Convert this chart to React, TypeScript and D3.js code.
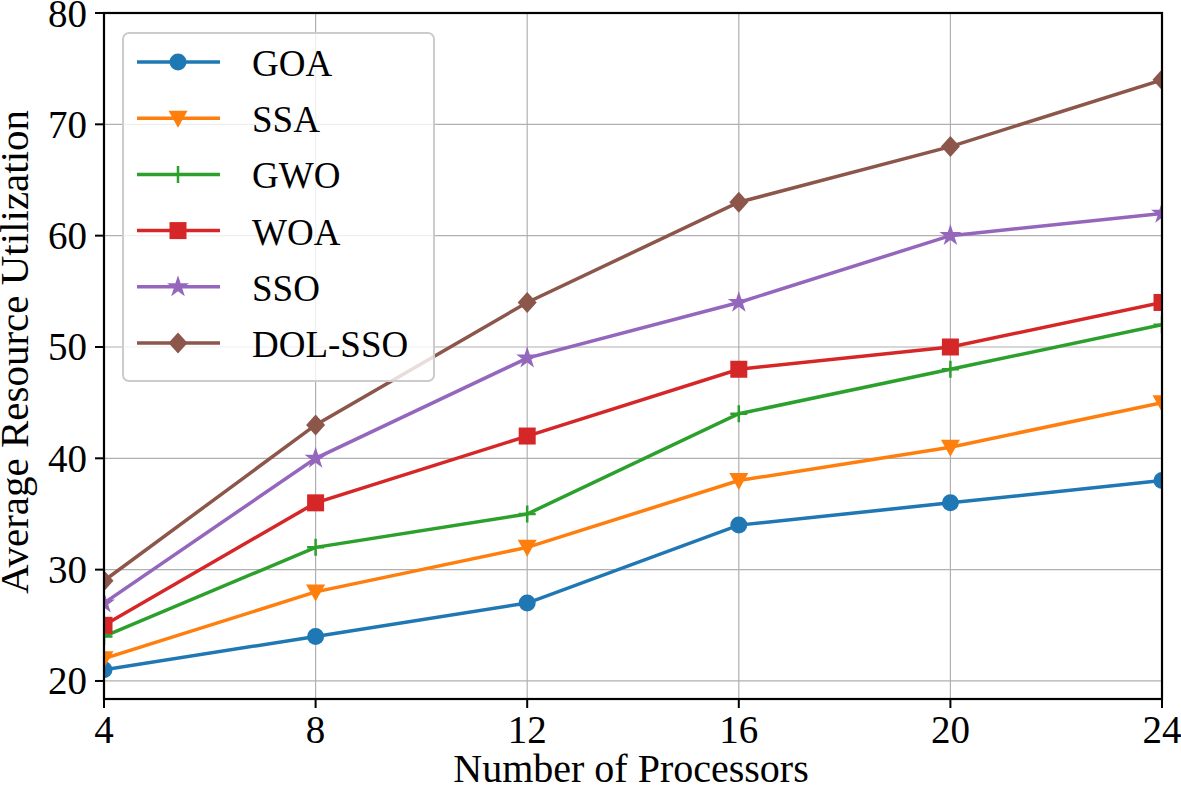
import React from "react";
import * as d3 from "d3";

const processors = [4, 8, 12, 16, 20, 24];
const xTicks = [4, 8, 12, 16, 20, 24];
const yTicks = [20, 30, 40, 50, 60, 70, 80];
const seriesNames = ["GOA", "SSA", "GWO", "WOA", "SSO", "DOL-SSO"];
const goa = [21, 24, 27, 34, 36, 38];
const ssa = [22, 28, 32, 38, 41, 45];
const gwo = [24, 32, 35, 44, 48, 52];
const woa = [25, 36, 42, 48, 50, 54];
const sso = [27, 40, 49, 54, 60, 62];
const dolsso = [29, 43, 54, 63, 68, 74];
const seriesValues = [goa, ssa, gwo, woa, sso, dolsso];
const colors = ["#1f77b4", "#ff7f0e", "#2ca02c", "#d62728", "#9467bd", "#8c564b"];
const markers = ["circle", "triangleDown", "plus", "square", "star", "diamond"];

const W = 1181, H = 791;
const L = 104, R = 1162, T = 13, B = 699;
const FONT = "'Liberation Serif', 'Times New Roman', serif";

function Marker({ type, x, y, color }: { type: string; x: number; y: number; color: string }) {
  const s = 8.5;
  if (type === "circle") return <circle cx={x} cy={y} r={s} fill={color} />;
  if (type === "square") return <rect x={x - s} y={y - s} width={2 * s} height={2 * s} fill={color} />;
  if (type === "triangleDown")
    return <path d={`M${x - s - 1},${y - s + 1}L${x + s + 1},${y - s + 1}L${x},${y + s + 1}Z`} fill={color} />;
  if (type === "diamond")
    return <path d={`M${x},${y - s - 2}L${x + s + 1},${y}L${x},${y + s + 2}L${x - s - 1},${y}Z`} fill={color} />;
  if (type === "plus")
    return <path d={`M${x - s},${y}L${x + s},${y}M${x},${y - s}L${x},${y + s}`} stroke={color} strokeWidth={2.5} />;
  if (type === "star") {
    const sym = d3.symbol().type(d3.symbolStar).size(150)();
    return <path d={sym as string} transform={`translate(${x},${y})`} fill={color} />;
  }
  return null;
}

export default function App() {
  const x = d3.scaleLinear().domain([4, 24]).range([L, R]);
  const y = d3.scaleLinear().domain([18.38, 80]).range([B, T]);
  const line = d3
    .line<number>()
    .x((_, i) => x(processors[i]))
    .y((d) => y(d));

  const legX = 123, legY = 33, legW = 311, legH = 348;
  const rowY0 = 62, rowStep = 56.2;

  return (
    <svg width={W} height={H} style={{ position: "absolute", left: 0, top: 0 }}>
      <defs>
        <clipPath id="plotclip">
          <rect x={L} y={T} width={R - L} height={B - T} />
        </clipPath>
      </defs>
      <rect x={0} y={0} width={W} height={H} fill="#fff" />
      {/* grid */}
      {xTicks.map((t) => (
        <line key={"gx" + t} x1={x(t)} x2={x(t)} y1={T} y2={B} stroke="#b0b0b0" strokeWidth={1.2} />
      ))}
      {yTicks.map((t) => (
        <line key={"gy" + t} x1={L} x2={R} y1={y(t)} y2={y(t)} stroke="#b0b0b0" strokeWidth={1.2} />
      ))}
      {/* series */}
      <g clipPath="url(#plotclip)">
        {seriesValues.map((vals, si) => (
          <g key={seriesNames[si]}>
            <path d={line(vals) as string} fill="none" stroke={colors[si]} strokeWidth={3.5} />
          </g>
        ))}
      </g>
      <g>
        {seriesValues.map((vals, si) => (
          <g key={"m" + seriesNames[si]} clipPath="url(#plotclip)">
            {vals.map((v, i) => (
              <Marker key={i} type={markers[si]} x={x(processors[i])} y={y(v)} color={colors[si]} />
            ))}
          </g>
        ))}
      </g>
      {/* spines */}
      <rect x={L} y={T} width={R - L} height={B - T} fill="none" stroke="#000" strokeWidth={2.2} />
      {/* ticks */}
      {xTicks.map((t) => (
        <g key={"xt" + t}>
          <line x1={x(t)} x2={x(t)} y1={B} y2={B + 9} stroke="#000" strokeWidth={2} />
          <text x={x(t)} y={743} textAnchor="middle" fontFamily={FONT} fontSize={39}>
            {t}
          </text>
        </g>
      ))}
      {yTicks.map((t) => (
        <g key={"yt" + t}>
          <line x1={L - 9} x2={L} y1={y(t)} y2={y(t)} stroke="#000" strokeWidth={2} />
          <text x={L - 17} y={y(t) + 13.5} textAnchor="end" fontFamily={FONT} fontSize={39}>
            {t}
          </text>
        </g>
      ))}
      <text x={631} y={782} textAnchor="middle" fontFamily={FONT} fontSize={40}>
        Number of Processors
      </text>
      <text
        transform={`translate(28,352) rotate(-90)`}
        textAnchor="middle"
        fontFamily={FONT}
        fontSize={41}
      >
        Average Resource Utilization
      </text>
      {/* legend */}
      <rect x={legX} y={legY} width={legW} height={legH} rx={6} ry={6} fill="#fff" fillOpacity={0.8} stroke="#cccccc" strokeWidth={2} />
      {seriesNames.map((name, si) => {
        const ry = rowY0 + si * rowStep;
        return (
          <g key={"lg" + name}>
            <line x1={137} x2={220} y1={ry} y2={ry} stroke={colors[si]} strokeWidth={3.5} />
            <Marker type={markers[si]} x={178} y={ry} color={colors[si]} />
            <text x={252} y={ry + 14} fontFamily={FONT} fontSize={37}>
              {name}
            </text>
          </g>
        );
      })}
    </svg>
  );
}
